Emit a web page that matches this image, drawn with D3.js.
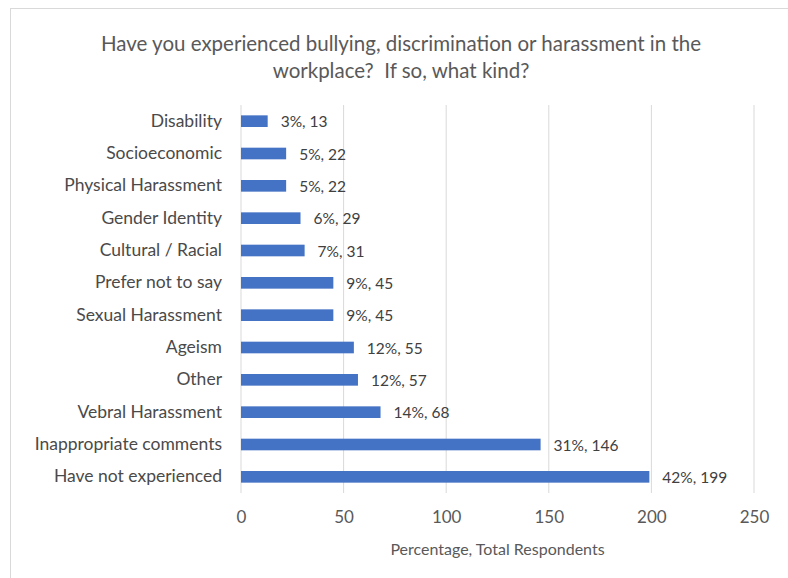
<!DOCTYPE html>
<html>
<head>
<meta charset="utf-8">
<script src="https://cdn.jsdelivr.net/npm/d3@7"></script>
<style>
  body { margin: 0; background: #fff; }
  text { font-family: Lato, "Open Sans", sans-serif; }
</style>
</head>
<body>
<main></main>
<script>
const width = 788;
const height = 578;

const categories = ['Disability', 'Socioeconomic', 'Physical Harassment', 'Gender Identity',
  'Cultural / Racial ', 'Prefer not to say', 'Sexual Harassment', 'Ageism', 'Other',
  'Vebral Harassment', 'Inappropriate comments', 'Have not experienced'];
const counts = [13, 22, 22, 29, 31, 45, 45, 55, 57, 68, 146, 199];
const percents = [3, 5, 5, 6, 7, 9, 9, 12, 12, 14, 31, 42];
const xTicks = [0, 50, 100, 150, 200, 250];

const margin = { left: 241, right: 34, top: 105, bottom: 85 };

const svg = d3.select('main')
              .append('svg')
              .attr('width', width)
              .attr('height', height);

// chart frame
svg.append('rect')
   .attr('x', 10.5).attr('y', 8.5)
   .attr('width', 800).attr('height', 600)
   .attr('fill', 'none')
   .attr('stroke', '#d9d9d9');

const xScale = d3.scaleLinear().domain([0, 250])
                 .range([margin.left, width - margin.right]);
const yScale = d3.scaleBand().domain(categories)
                 .range([margin.top, height - margin.bottom])
                 .paddingInner(0.64).paddingOuter(0.32);

// gridlines
svg.append('g')
   .selectAll('line')
   .data(xTicks)
   .enter()
   .append('line')
   .attr('x1', d => xScale(d)).attr('x2', d => xScale(d))
   .attr('y1', margin.top).attr('y2', height - margin.bottom)
   .attr('stroke', '#d9d9d9')
   .attr('stroke-width', 1);

// x axis labels
const xAxis = svg.append('g')
   .attr('transform', 'translate(0,' + (height - margin.bottom + 6) + ')')
   .call(d3.axisBottom(xScale).tickValues(xTicks).tickSize(0).tickPadding(12));
xAxis.select('.domain').remove();
xAxis.selectAll('text')
     .attr('font-size', 17)
     .attr('fill', '#595959')
     .style('font-family', 'Lato, sans-serif');

// y axis labels
const yAxis = svg.append('g')
   .attr('transform', 'translate(' + (margin.left - 19) + ',0)')
   .call(d3.axisLeft(yScale).tickSize(0).tickPadding(0));
yAxis.select('.domain').remove();
yAxis.selectAll('text')
     .attr('font-size', 17.5)
     .attr('fill', '#4a4a4a')
     .style('font-family', 'Lato, sans-serif');

// bars
svg.selectAll('rect.bar')
   .data(counts)
   .enter()
   .append('rect')
   .attr('class', 'bar')
   .attr('x', xScale(0))
   .attr('y', (d, i) => yScale(categories[i]))
   .attr('width', d => xScale(d) - xScale(0))
   .attr('height', yScale.bandwidth())
   .attr('fill', '#4472c4');

// data labels
svg.selectAll('text.lbl')
   .data(counts)
   .enter()
   .append('text')
   .attr('class', 'lbl')
   .attr('x', d => xScale(d) + 13)
   .attr('y', (d, i) => yScale(categories[i]) + yScale.bandwidth() / 2 + 6)
   .attr('font-size', 15.5)
   .attr('fill', '#404040')
   .text((d, i) => percents[i] + '%, ' + d);

// title
const title = svg.append('text')
   .attr('text-anchor', 'middle')
   .attr('font-size', 20.5)
   .attr('fill', '#595959');
title.append('tspan').attr('x', 401).attr('y', 51)
     .text('Have you experienced bullying, discrimination or harassment in the');
title.append('tspan').attr('x', 401).attr('y', 78)
     .text('workplace?  If so, what kind?').attr('xml:space', 'preserve');

// axis title
svg.append('text')
   .attr('x', (xScale(0) + xScale(250)) / 2)
   .attr('y', 555)
   .attr('text-anchor', 'middle')
   .attr('font-size', 16)
   .attr('fill', '#595959')
   .text('Percentage, Total Respondents');
</script>
</body>
</html>
